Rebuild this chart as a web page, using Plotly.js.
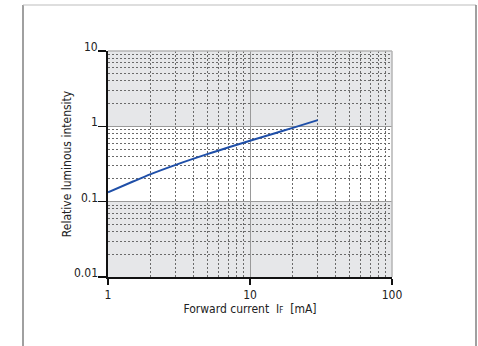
<!DOCTYPE html>
<html><head><meta charset="utf-8">
<script src="https://cdn.plot.ly/plotly-3.0.1.min.js"></script>
<style>html,body{margin:0;padding:0;background:#fff;}#c{width:478px;height:346px;}</style>
</head><body><div id="c"></div>
<script>
var currentMA = [1, 1.5, 2, 3, 5, 7, 10, 15, 20, 30];
var relIntensity = [0.133, 0.185, 0.232, 0.308, 0.427, 0.523, 0.643, 0.81, 0.955, 1.21];
var xTickVals = [1, 10, 100];
var xTickText = ['1', '10', '100'];
var yTickVals = [0.01, 0.1, 1, 10];
var yTickText = ['0.01', '0.1', '1', '10'];
var grayBands = [[1, 10], [0.01, 0.1]];

var fnt = 'Liberation Sans Narrow, Arial Narrow, DejaVu Sans Condensed, sans-serif';
var shapes = grayBands.map(function(b){
  return {type:'rect', xref:'paper', yref:'y', x0:0, x1:1, y0:b[0], y1:b[1],
    fillcolor:'#e6e7e9', line:{width:0}, layer:'below'};
});
// outer frame
shapes.push({type:'line', xref:'paper', yref:'paper', x0:-85/284, x1:-85/284, y0:-1, y1:(346-5-69)/226, line:{color:'#808080', width:1.5}});
shapes.push({type:'line', xref:'paper', yref:'paper', x0:-85/284, x1:(476-108)/284, y0:(346-5-69)/226, y1:(346-5-69)/226, line:{color:'#bdbdbd', width:1}});
shapes.push({type:'line', xref:'paper', yref:'paper', x0:(476-108)/284, x1:(476-108)/284, y0:-1, y1:(346-5-69)/226, line:{color:'#808080', width:1.5}});
// right/top border of plot
shapes.push({type:'line', xref:'paper', yref:'paper', x0:0, x1:1, y0:1, y1:1, line:{color:'#b5b5b5', width:1.5}});
shapes.push({type:'line', xref:'paper', yref:'paper', x0:1, x1:1, y0:0, y1:1, line:{color:'#b5b5b5', width:1.5}});

var annotations = yTickVals.map(function(v, i){
  return {xref:'paper', yref:'y', x:0, y:Math.log10(v), text:yTickText[i], showarrow:false,
    xanchor:'right', yanchor:'middle', xshift:-8, yshift:4,
    font:{family:fnt, size:12, color:'#222'}};
});

var trace = {x: currentMA, y: relIntensity, mode:'lines', type:'scatter',
  line:{color:'#1f4fa8', width:2, shape:'spline'}, hoverinfo:'skip'};

var layout = {
  width:478, height:346, margin:{l:108, r:86, t:51, b:69},
  paper_bgcolor:'#fff', plot_bgcolor:'#fff', showlegend:false,
  font:{family:fnt, size:11, color:'#222'},
  xaxis:{type:'log', range:[0,2], tickvals:xTickVals, ticktext:xTickText,
    showline:true, linecolor:'#111', linewidth:2, ticks:'outside', ticklen:6, tickwidth:1.5, tickcolor:'#111',
    showgrid:true, gridcolor:'#9a9a9a', gridwidth:1, zeroline:false,
    minor:{dtick:'D1', showgrid:true, gridcolor:'#6a6a6a', griddash:'2px,2px', gridwidth:1, ticks:''},
    tickfont:{family:fnt, size:12, color:'#222'},
    title:{text:'Forward current  I<span style="font-size:8px">F</span>  [mA]', font:{family:fnt, size:12, color:'#222'}, standoff:0}},
  yaxis:{type:'log', range:[-2,1], tickvals:yTickVals, ticktext:yTickText, showticklabels:false,
    showline:true, linecolor:'#111', linewidth:2, ticks:'outside', ticklen:8, tickwidth:1.5, tickcolor:'#111',
    showgrid:true, gridcolor:'#9a9a9a', gridwidth:1, zeroline:false,
    minor:{dtick:'D1', showgrid:true, gridcolor:'#6a6a6a', griddash:'2px,2px', gridwidth:1, ticks:''},
    title:{text:'Relative luminous intensity', font:{family:fnt, size:12, color:'#222'}, standoff:24}},
  shapes: shapes,
  annotations: annotations
};
Plotly.newPlot('c', [trace], layout, {staticPlot:true, displayModeBar:false});
</script></body></html>
